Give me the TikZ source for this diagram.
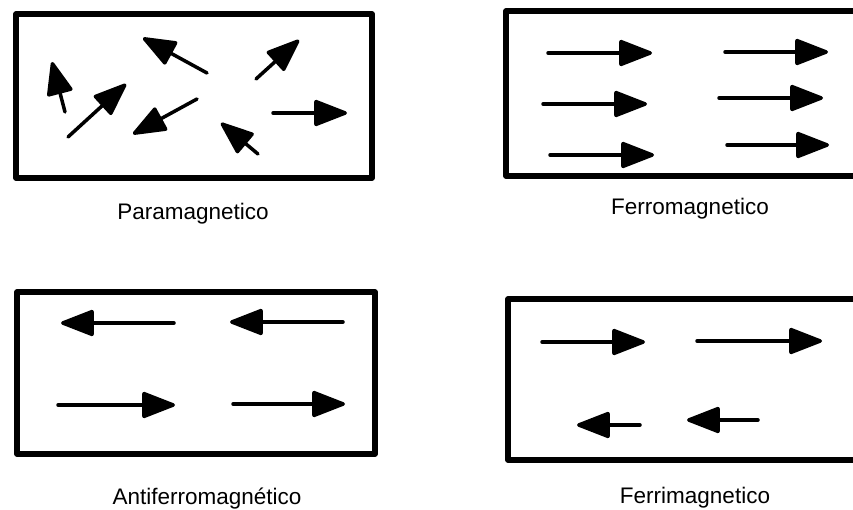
\documentclass[tikz,border=0pt]{standalone}
\usepackage{fontspec}
\setmainfont{Liberation Sans}
\usetikzlibrary{arrows.meta}
\begin{document}
\begin{tikzpicture}[x=1pt,y=-1pt,
  frame/.style={line width=5.5pt, line join=round, line cap=round},
  spin/.style={line width=3.5pt, line cap=round, -{Triangle[length=36pt,width=27pt,round]}},
  lbl/.style={font=\fontsize{22.5}{26}\selectfont, inner sep=0pt, anchor=center}]
\useasboundingbox (0,0) rectangle (853,510);
\fill[white] (0,0) rectangle (853,510);
% boxes
\draw[frame] (16,14) rectangle (372,178);
\draw[frame] (870,11) -- (506,11) -- (506,176) -- (870,176);
\draw[frame] (17,292) rectangle (375,454);
\draw[frame] (870,299) -- (508,299) -- (508,460) -- (870,460);
% paramagnetic
\draw[spin] (65,112) -- (52,62);
\draw[spin] (68,137) -- (126,84);
\draw[spin] (207,73) -- (143,38);
\draw[spin] (256,79) -- (299,40);
\draw[spin] (197,99) -- (133,134);
\draw[spin] (258,154) -- (221,123);
\draw[spin] (273,113) -- (347,113);
% ferromagnetic
\draw[spin] (548,53) -- (652,53);
\draw[spin] (725,52) -- (828,52);
\draw[spin] (543,104) -- (647,104);
\draw[spin] (719,98) -- (823,98);
\draw[spin] (550,155) -- (654,155);
\draw[spin] (727,145) -- (829,145);
% antiferromagnetic
\draw[spin] (174,323) -- (61,323);
\draw[spin] (343,322) -- (230,322);
\draw[spin] (58,405) -- (175,405);
\draw[spin] (233,404) -- (345,404);
% ferrimagnetic
\draw[spin] (542,342) -- (645,342);
\draw[spin] (697,341) -- (822,341);
\draw[spin] (640,425) -- (577,425);
\draw[spin] (758,420) -- (687,420);
% labels
\node[lbl] (para) at (193,214) {Paramagnetico};
\node[lbl] (ferro) at (690,209) {Ferromagnetico};
\node[lbl] (anti) at (207,499) {Antiferromagnético};
\node[lbl] (ferri) at (695,498) {Ferrimagnetico};
\end{tikzpicture}
\end{document}
